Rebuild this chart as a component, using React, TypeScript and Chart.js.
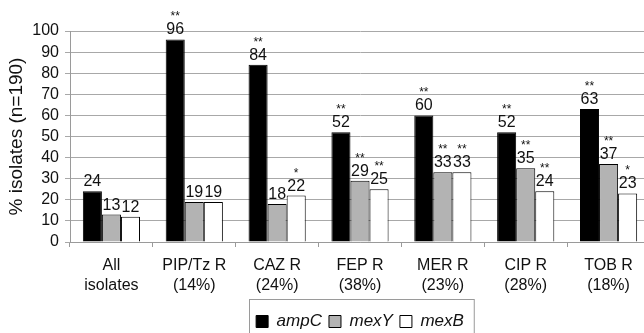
import React, { useEffect, useRef } from "react";
import { Chart, registerables } from "chart.js";

Chart.register(...registerables);

const categories: string[][] = [
  ["All", "isolates"],
  ["PIP/Tz R", "(14%)"],
  ["CAZ R", "(24%)"],
  ["FEP R", "(38%)"],
  ["MER R", "(23%)"],
  ["CIP R", "(28%)"],
  ["TOB R", "(18%)"],
];
const seriesNames = ["ampC", "mexY", "mexB"];
const ampC = [24, 96, 84, 52, 60, 52, 63];
const mexY = [13, 19, 18, 29, 33, 35, 37];
const mexB = [12, 19, 22, 25, 33, 24, 23];
const ampCSig = ["", "**", "**", "**", "**", "**", "**"];
const mexYSig = ["", "", "", "**", "**", "**", "**"];
const mexBSig = ["", "", "*", "**", "**", "**", "*"];
const yMin = 0;
const yMax = 100;
const yStep = 10;
const yTitle = "% isolates (n=190)";

const FONT = "'Liberation Sans', Arial, Helvetica, sans-serif";
const sigs = [ampCSig, mexYSig, mexBSig];

const labelPlugin = {
  id: "barLabels",
  afterDatasetsDraw(chart: any) {
    const ctx = chart.ctx;
    ctx.save();
    ctx.textAlign = "center";
    ctx.textBaseline = "alphabetic";
    ctx.fillStyle = "#111";
    chart.data.datasets.forEach((ds: any, di: number) => {
      const meta = chart.getDatasetMeta(di);
      meta.data.forEach((bar: any, i: number) => {
        const v = ds.data[i];
        const base = bar.y - 5;
        ctx.font = `16px ${FONT}`;
        ctx.fillText(String(v), bar.x, base);
        const s = sigs[di][i];
        if (s) {
          ctx.font = `12px ${FONT}`;
          ctx.fillText(s, bar.x, base - 14);
        }
      });
    });
    ctx.restore();
  },
};

const legendBoxPlugin = {
  id: "legendBox",
  afterDraw(chart: any) {
    const lg = chart.legend;
    if (!lg || !lg.legendHitBoxes || !lg.legendHitBoxes.length) return;
    const hb = lg.legendHitBoxes;
    const first = hb[0];
    const last = hb[hb.length - 1];
    const left = first.left - 7;
    const right = last.left + last.width + 10;
    const top = first.top - 14;
    const ctx = chart.ctx;
    ctx.save();
    ctx.strokeStyle = "#9a9a9a";
    ctx.lineWidth = 1;
    ctx.strokeRect(Math.round(left) + 0.5, Math.round(top) + 0.5, right - left, 44);
    ctx.restore();
  },
};

export default function App() {
  const ref = useRef<HTMLCanvasElement | null>(null);
  useEffect(() => {
    if (!ref.current) return;
    const chart = new Chart(ref.current, {
      type: "bar",
      data: {
        labels: categories,
        datasets: [
          { label: seriesNames[0], data: ampC, backgroundColor: "#000000", borderColor: "#000000", borderWidth: 1 },
          { label: seriesNames[1], data: mexY, backgroundColor: "#b3b3b3", borderColor: "#000000", borderWidth: 1 },
          { label: seriesNames[2], data: mexB, backgroundColor: "#ffffff", borderColor: "#000000", borderWidth: 1 },
        ],
      },
      options: {
        responsive: false,
        animation: false,
        devicePixelRatio: 1,
        layout: { padding: { top: 31, left: 0, right: 0, bottom: 0 } },
        datasets: { bar: { categoryPercentage: 0.69, barPercentage: 1 } },
        scales: {
          x: {
            grid: { drawOnChartArea: false, color: "#9a9a9a", tickLength: 5, offset: true },
            border: { color: "#9a9a9a" },
            ticks: { color: "#111", font: { family: FONT, size: 16, lineHeight: 1.25 }, padding: 9, maxRotation: 0, autoSkip: false },
            afterFit: (s: any) => { s.height = 64; },
          },
          y: {
            min: yMin,
            max: yMax,
            grid: { color: "#a8a8a8", tickLength: 5, lineWidth: 1 },
            border: { color: "#9a9a9a" },
            ticks: { stepSize: yStep, autoSkip: false, color: "#111", font: { family: FONT, size: 16 }, padding: 6 },
            title: { display: true, text: yTitle, color: "#111", font: { family: FONT, size: 19 }, padding: { top: 5, bottom: 0 } },
            afterFit: (s: any) => { s.width = 70; },
          },
        },
        plugins: {
          legend: {
            position: "bottom",
            fullSize: false,
            labels: {
              boxWidth: 12,
              boxHeight: 12,
              padding: 7,
              color: "#111",
              font: { family: FONT, size: 17, style: "italic" },
            },
          },
          tooltip: { enabled: false },
        },
      },
      plugins: [labelPlugin, legendBoxPlugin],
    } as any);
    return () => chart.destroy();
  }, []);
  return (
    <div style={{ position: "fixed", left: 0, top: 0, width: 644, height: 333, overflow: "hidden", background: "#fff" }}>
      <canvas ref={ref} width={650} height={340} style={{ display: "block" }} />
    </div>
  );
}
